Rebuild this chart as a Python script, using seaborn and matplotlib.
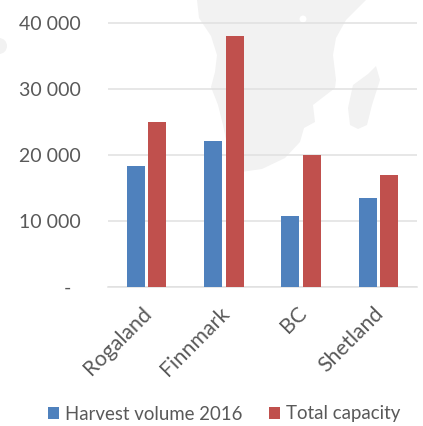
import matplotlib
matplotlib.use("Agg")
import matplotlib.pyplot as plt
import pandas as pd
import seaborn as sns
from matplotlib.patches import Patch, Circle
from matplotlib.ticker import FuncFormatter
from matplotlib.transforms import ScaledTranslation

regions = ["Rogaland", "Finnmark", "BC", "Shetland"]
harvest = [18300, 22100, 10700, 13400]
capacity = [25000, 38000, 20000, 17000]
series_names = ["Harvest volume 2016", "Total capacity"]
colors = ["#4F81BD", "#C0504D"]
yticks = [0, 10000, 20000, 30000, 40000]

# decorative backdrop outline (pixel coordinates)
africa = [(197,0),(199,18),(211,36),(217,55),(215,72),(211,87),(218,105),(223,125),(226,140),(232,160),(241,172),
          (262,169),(285,158),(300,142),(304,128),(315,122),(313,105),(335,88),(336,80),(333,55),(336,38),(346,20),(366,0)]
madagascar = [(376,66),(380,80),(372,105),(367,125),(358,129),(350,125),(348,108),(353,85),(368,74)]

sns.set_theme(style="white")
plt.rcParams["font.family"] = ["Lato", "DejaVu Sans"]

W, H = 423, 426
fig = plt.figure(figsize=(W/100, H/100), dpi=100, facecolor="white")

bg = fig.add_axes([0, 0, 1, 1], zorder=0)
bg.set_xlim(0, W); bg.set_ylim(H, 0); bg.axis("off")
bg.fill(*zip(*africa), color="#F2F2F2", lw=0)
bg.fill(*zip(*madagascar), color="#F2F2F2", lw=0)
bg.add_patch(Circle((-1, 46), 8, color="#F2F2F2", lw=0))
bg.add_patch(Circle((303, 19), 3.5, color="white", lw=0))

ax = fig.add_axes([108/W, 1-286.5/H, (417-108)/W, (286.5-10)/H], zorder=1)
ax.patch.set_alpha(0)

df = pd.DataFrame({"region": regions * 2,
                   "series": [series_names[0]]*4 + [series_names[1]]*4,
                   "value": harvest + capacity})
sns.barplot(data=df, x="region", y="value", hue="series", palette=colors, order=regions,
            hue_order=series_names, width=0.556, gap=0.16, saturation=1, ax=ax, legend=False,
            edgecolor="none", zorder=3)

ax.set_xlim(-0.5, 3.5)
ax.set_ylim(0, 40000 * (286.5-10)/(286.5-23))
ax.set_yticks(yticks)
ax.yaxis.set_major_formatter(FuncFormatter(lambda v, _: "-" if v == 0 else f"{int(v):,}".replace(",", " ")))
ax.set_xlabel(""); ax.set_ylabel("")
ax.grid(axis="y", color="#E0E0E0", lw=1.1, zorder=0)
ax.set_axisbelow(True)
for s in ["top", "right", "left"]:
    ax.spines[s].set_visible(False)
ax.spines["bottom"].set_color("#E0E0E0")
ax.spines["bottom"].set_linewidth(1.1)
ax.tick_params(axis="y", length=0, pad=19.5, labelsize=14, labelcolor="#595959")
ax.tick_params(axis="x", length=0, pad=12, labelsize=15.4, labelcolor="#595959")
plt.setp(ax.get_yticklabels(), ha="right")
fig.canvas.draw()
dash = ax.get_yticklabels()[0]
dash.set_transform(dash.get_transform() + ScaledTranslation(-10/100, 0, fig.dpi_scale_trans))
shift = ScaledTranslation(-5/100, 0, fig.dpi_scale_trans)
for lab in ax.get_xticklabels():
    lab.set_rotation(45); lab.set_ha("right"); lab.set_rotation_mode("anchor")
    lab.set_transform(lab.get_transform() + shift)

handles = [Patch(facecolor=c, edgecolor="none", label=n) for c, n in zip(colors, series_names)]
fig.legend(handles=handles, loc="center", bbox_to_anchor=(224/W, 1-414/H), ncol=2, frameon=False,
           fontsize=13.4, labelcolor="#595959", handlelength=0.6, handleheight=0.6,
           handletextpad=0.32, columnspacing=1.4, borderpad=0, borderaxespad=0)

fig.savefig("out.png", dpi=100, facecolor="white")
